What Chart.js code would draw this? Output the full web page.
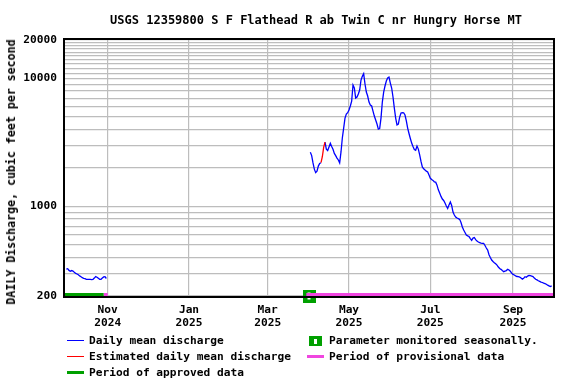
<!DOCTYPE html>
<html lang="en">
<head>
<meta charset="UTF-8">
<title>USGS 12359800 daily discharge</title>
<script src="https://cdn.jsdelivr.net/npm/chart.js"></script>
<style>
  body { margin: 0; background: #fff; }
  #wrap { position: relative; width: 576px; height: 384px; font-family: 'DejaVu Sans Mono', monospace; font-weight: bold; color: #000; }
  #wrap canvas { position: absolute; left: 0; top: 0; }
  .txt { position: absolute; white-space: nowrap; font-size: 11.2px; line-height: 14px; }
  #title { position: absolute; left: 56px; width: 520px; top: 12px; text-align: center; font-size: 12px; line-height: 16px; white-space: nowrap; }
  #ytitle { position: absolute; left: 11px; top: 172px; transform: translate(-50%, -50%) rotate(-90deg); font-size: 11.6px; white-space: nowrap; }
  .sw { position: absolute; }
</style>
</head>
<body>
<div id="wrap">
  <canvas id="chart" width="576" height="384"></canvas>
  <div id="title">USGS 12359800 S F Flathead R ab Twin C nr Hungry Horse MT</div>
  <div id="ytitle">DAILY Discharge, cubic feet per second</div>

  <div class="sw" style="left:67px; top:340px; width:17px; height:1px; background:#0000ff"></div>
  <div class="txt" style="left:89px; top:334px">Daily mean discharge</div>
  <div class="sw" style="left:67px; top:356px; width:17px; height:1px; background:#ff0000"></div>
  <div class="txt" style="left:89px; top:350px">Estimated daily mean discharge</div>
  <div class="sw" style="left:67px; top:371px; width:17px; height:3px; background:#00a000"></div>
  <div class="txt" style="left:89px; top:366px">Period of approved data</div>

  <div class="sw" style="left:309px; top:336px; width:13px; height:10px; background:#00a000">
    <div style="position:absolute; left:5px; top:3px; width:3px; height:5px; background:#fff"></div>
  </div>
  <div class="txt" style="left:329px; top:334px">Parameter monitored seasonally.</div>
  <div class="sw" style="left:307px; top:355px; width:17px; height:3px; background:#f046e0"></div>
  <div class="txt" style="left:329px; top:350px">Period of provisional data</div>
</div>
<script>
// days counted from Oct 1 2024 (day 0)
const fallStartDay = 0;
const fallFlow = [
  325, 327, 317, 312, 316, 313, 306, 300, 297, 293,
  287, 283, 278, 275, 273, 270, 270, 270, 270, 269,
  270, 276, 284, 280, 275, 270, 270, 276, 282, 283,
  274
];

const springStartDay = 183; // Apr 2 2025
const springFlow = [
  2650, 2500, 2190, 1960, 1840, 1890, 2070, 2170, 2200, 2450,
  2900, 3190, 2810, 2740, 2920, 3120, 2940, 2800, 2600, 2500,
  2390, 2310, 2190, 2670, 3430, 4100, 4910, 5280, 5410, 5680,
  6100, 6670, 8900, 8430, 7040, 7170, 7570, 8130, 9730, 10400,
  10900, 9060, 7840, 7300, 6550, 6210, 6100, 5570, 5090, 4740,
  4410, 4030, 4070, 4910, 6550, 7840, 8740, 9560, 10090, 10270,
  9220, 8430, 7170, 5880, 4910, 4340, 4410, 5000, 5380, 5410,
  5400, 5190, 4660, 4100, 3720, 3400, 3130, 2940, 2790, 2750,
  2970, 2810, 2530, 2250, 2040, 1970, 1930, 1890, 1860, 1760,
  1660, 1625, 1600, 1560, 1550, 1470, 1350, 1275, 1200, 1145,
  1115, 1065, 1010, 965, 1030, 1085, 1020, 906, 858, 828,
  813, 805, 794, 750, 692, 655, 626, 599, 590, 583,
  562, 545, 567, 573, 552, 537, 528, 523, 518, 515,
  515, 496, 474, 457, 420, 400, 382, 372, 364, 357,
  349, 337, 328, 323, 316, 310, 313, 316, 323, 319,
  312, 302, 295, 292, 287, 284, 283, 281, 276, 271,
  275, 283, 280, 286, 290, 288, 286, 284, 276, 270,
  267, 263, 260, 257, 255, 252, 250, 247, 243, 240,
  237, 240
];
const estimatedFirstDay = 191;
const estimatedLastDay = 194;

const tickDays = [31, 92, 151, 212, 273, 335];
const tickMonths = ['Nov', 'Jan', 'Mar', 'May', 'Jul', 'Sep'];
const tickYears = ['2024', '2025', '2025', '2025', '2025', '2025'];

const yGridValues = [200, 300, 400, 500, 600, 700, 800, 900,
  1000, 2000, 3000, 4000, 5000, 6000, 7000, 8000, 9000,
  10000, 11000, 12000, 13000, 14000, 15000, 16000, 17000, 18000, 19000, 20000];
const yLabelValues = [200, 1000, 10000, 20000];

const approvedSpans = [[-1, 28]];
const provisionalSpans = [[28, 31], [180, 365]];
const seasonalMarkerDay = 182;

const green = '#00a000';
const pink = '#f046e0';
const gridColor = '#bdbdbd';
const tickFont = { family: 'DejaVu Sans Mono', weight: 'bold', size: 11.2, lineHeight: 1.14 };

function toPoints(start, values) {
    return values.map((v, i) => ({ x: start + i, y: v }));
}

const springPoints = toPoints(springStartDay, springFlow);
const bluePoints = springPoints.map(p =>
    (p.x > estimatedFirstDay && p.x < estimatedLastDay) ? { x: p.x, y: null } : p);
const redPoints = springPoints.filter(p => p.x >= estimatedFirstDay && p.x <= estimatedLastDay);

// marker image for "parameter monitored seasonally"
const marker = document.createElement('canvas');
marker.width = 13; marker.height = 13;
const mctx = marker.getContext('2d');
mctx.fillStyle = green;
mctx.fillRect(0, 0, 13, 13);
mctx.fillStyle = '#fff';
mctx.fillRect(5, 3, 3, 7);

function spanSet(span, color) {
    return {
        data: [{ x: span[0], y: 200 }, { x: span[1], y: 200 }],
        borderColor: color, borderWidth: 6, pointRadius: 0, clip: 0, order: 2
    };
}

const datasets = [
    { data: [{ x: seasonalMarkerDay, y: 200 }], showLine: false, pointStyle: marker,
      pointRadius: 6.5, clip: false, order: 3 },
    ...approvedSpans.map(s => spanSet(s, green)),
    ...provisionalSpans.map(s => spanSet(s, pink)),
    { data: toPoints(fallStartDay, fallFlow), borderColor: '#0000ff', borderWidth: 1.3, pointRadius: 0, order: 1 },
    { data: bluePoints, borderColor: '#0000ff', borderWidth: 1.3, pointRadius: 0, spanGaps: false, order: 1 },
    { data: redPoints, borderColor: '#ff0000', borderWidth: 1.3, pointRadius: 0, order: 0 }
];

const framePlugin = {
    id: 'frame',
    afterDatasetsDraw(chart) {
        const a = chart.chartArea;
        const ctx = chart.ctx;
        ctx.save();
        ctx.strokeStyle = '#000';
        ctx.lineWidth = 2;
        ctx.strokeRect(a.left - 1, a.top - 1, a.right - a.left + 2, a.bottom - a.top + 2);
        ctx.restore();
    }
};

new Chart(document.getElementById('chart'), {
    type: 'line',
    data: { datasets: datasets },
    options: {
        responsive: false,
        animation: false,
        events: [],
        layout: { padding: { left: 0, top: 40, right: 23, bottom: 0 } },
        plugins: { legend: { display: false }, tooltip: { enabled: false } },
        scales: {
            x: {
                type: 'linear', min: -1, max: 365,
                afterFit: s => { s.height = 88; },
                afterBuildTicks: s => { s.ticks = tickDays.map(v => ({ value: v })); },
                grid: { color: gridColor, lineWidth: 1.2, drawTicks: false },
                border: { display: false },
                ticks: {
                    autoSkip: false, maxRotation: 0, padding: 8, color: '#000', font: tickFont,
                    callback: v => {
                        const i = tickDays.indexOf(v);
                        return i < 0 ? '' : [tickMonths[i], tickYears[i]];
                    }
                }
            },
            y: {
                type: 'logarithmic', min: 200, max: 20000,
                afterFit: s => { s.width = 65; },
                afterBuildTicks: s => { s.ticks = yGridValues.map(v => ({ value: v })); },
                grid: { color: gridColor, lineWidth: 1.2, drawTicks: false },
                border: { display: false },
                ticks: {
                    autoSkip: false, padding: 8, color: '#000', font: tickFont,
                    callback: v => yLabelValues.includes(v) ? String(v) : ''
                }
            }
        }
    },
    plugins: [framePlugin]
});
</script>
</body>
</html>
